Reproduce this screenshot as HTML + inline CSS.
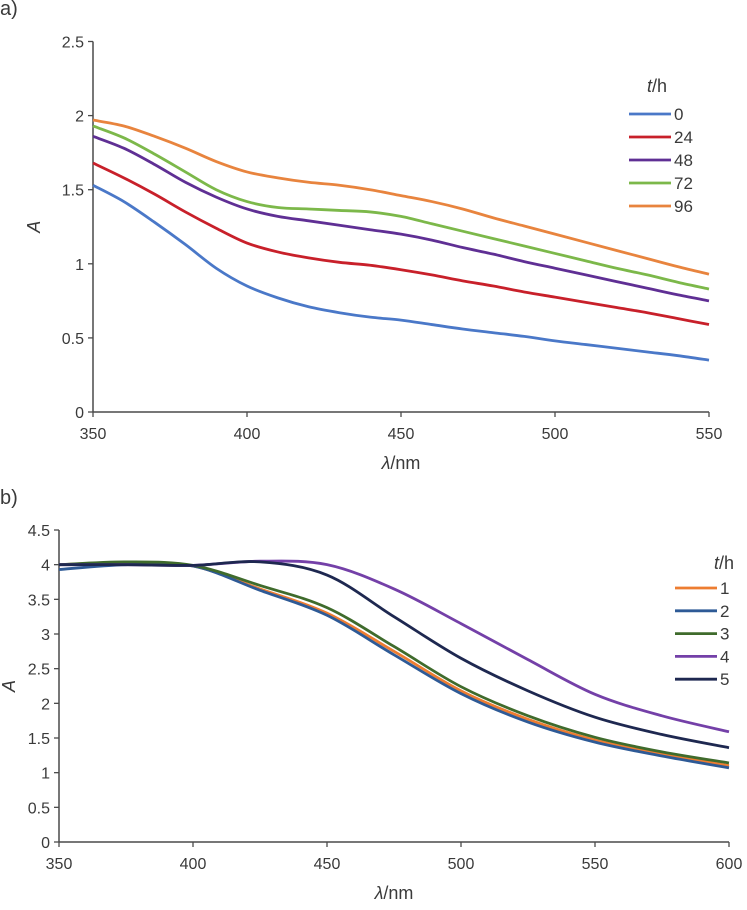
<!DOCTYPE html>
<html><head><meta charset="utf-8"><style>
body{margin:0;background:#fff;}
svg{display:block;font-family:"Liberation Sans",sans-serif;}
text{fill:#3a3a3a;}
</style></head><body>
<svg id="s" width="747" height="910">
<text x="0" y="15" font-size="20">a)</text>
<text x="0" y="504" font-size="20">b)</text>
</svg>
<script>
// Panel a
const aX = [350,360,370,380,390,400,410,420,430,440,450,460,470,480,490,500,510,520,530,540,550];
const aNames = ["0","24","48","72","96"];
const aS0 = [1.53,1.42,1.28,1.13,0.97,0.85,0.77,0.71,0.67,0.64,0.62,0.59,0.56,0.535,0.51,0.48,0.455,0.43,0.405,0.38,0.35];
const aS24 = [1.68,1.58,1.47,1.35,1.24,1.14,1.08,1.04,1.01,0.99,0.96,0.925,0.885,0.85,0.81,0.775,0.74,0.705,0.67,0.63,0.59];
const aS48 = [1.86,1.78,1.67,1.55,1.45,1.37,1.32,1.29,1.26,1.23,1.20,1.16,1.11,1.065,1.015,0.97,0.925,0.88,0.835,0.79,0.75];
const aS72 = [1.93,1.85,1.74,1.62,1.50,1.42,1.38,1.37,1.36,1.35,1.32,1.27,1.22,1.17,1.12,1.07,1.02,0.97,0.925,0.875,0.83];
const aS96 = [1.97,1.93,1.86,1.78,1.69,1.62,1.58,1.55,1.53,1.50,1.46,1.42,1.37,1.31,1.255,1.20,1.145,1.09,1.035,0.98,0.93];
const aXTicks = [350,400,450,500,550];
const aYTicks = ["0","0.5","1","1.5","2","2.5"];
// Panel b
const bX = [350,375,400,425,450,475,500,525,550,575,600];
const bNames = ["1","2","3","4","5"];
const bS1 = [4.00,4.03,3.98,3.65,3.30,2.75,2.18,1.77,1.47,1.27,1.10];
const bS2 = [3.93,4.00,3.98,3.63,3.27,2.70,2.14,1.73,1.44,1.24,1.07];
const bS3 = [4.00,4.04,3.99,3.70,3.38,2.82,2.24,1.82,1.51,1.30,1.14];
const bS4 = [4.00,4.00,3.99,4.05,4.00,3.65,3.15,2.63,2.13,1.82,1.59];
const bS5 = [4.00,4.00,3.99,4.04,3.85,3.25,2.65,2.18,1.80,1.55,1.36];
const bXTicks = [350,400,450,500,550,600];
const bYTicks = ["0","0.5","1","1.5","2","2.5","3","3.5","4","4.5"];

const NS="http://www.w3.org/2000/svg";
const svg=document.getElementById('s');
function mk(tag,attrs,parent){const e=document.createElementNS(NS,tag);for(const k in attrs)e.setAttribute(k,attrs[k]);(parent||svg).appendChild(e);return e;}
function smooth(pts){let d="M"+pts[0][0]+","+pts[0][1];for(let i=0;i<pts.length-1;i++){const p0=pts[Math.max(0,i-1)],p1=pts[i],p2=pts[i+1],p3=pts[Math.min(pts.length-1,i+2)];
d+=" C"+(p1[0]+(p2[0]-p0[0])/6)+","+(p1[1]+(p2[1]-p0[1])/6)+" "+(p2[0]-(p3[0]-p1[0])/6)+","+(p2[1]-(p3[1]-p1[1])/6)+" "+p2[0]+","+p2[1];}return d;}

function panel(cfg){
  const g=mk('g',{});
  
  
  const sx=v=>cfg.x0+(v-cfg.xmin)/(cfg.xmax-cfg.xmin)*(cfg.x1-cfg.x0);
  const sy=v=>cfg.y0-(v-0)/(cfg.ymax)*(cfg.y0-cfg.y1);
  const ax=mk('line',{x1:cfg.x0,y1:cfg.y0,x2:cfg.x1,y2:cfg.y0,stroke:'#4a4a4a','stroke-width':1.5},g);
  
  
  const ay=mk('line',{x1:cfg.x0,y1:cfg.y0,x2:cfg.x0,y2:cfg.y1,stroke:'#4a4a4a','stroke-width':1.5},g);
  
  
  cfg.xt.forEach(v=>{const x=sx(v);mk('line',{x1:x,y1:cfg.y0,x2:x,y2:cfg.y0+5,stroke:'#4a4a4a','stroke-width':1.3},g);
    const t=mk('text',{x:x,y:cfg.y0+27,'font-size':16,'text-anchor':'middle'},g);t.textContent=v;
    
    });
  cfg.yt.forEach(s=>{const y=sy(parseFloat(s));mk('line',{x1:cfg.x0-5,y1:y,x2:cfg.x0,y2:y,stroke:'#4a4a4a','stroke-width':1.3},g);
    const t=mk('text',{x:cfg.x0-9,y:y+6,'font-size':16,'text-anchor':'end'},g);t.textContent=s;
    
    });
  const xl=mk('text',{x:(cfg.x0+cfg.x1)/2,y:cfg.y0+57,'font-size':18,'text-anchor':'middle'},g);
  xl.innerHTML='<tspan font-style="italic">λ</tspan>/nm';
  
  
  const yl=mk('text',{x:0,y:0,'font-size':18,'font-style':'italic','text-anchor':'middle',transform:`translate(${cfg.ylx},${(cfg.y0+cfg.y1)/2}) rotate(-90)`},g);
  yl.textContent='A';
  
  
  cfg.series.forEach((s,i)=>{
    const p=mk('path',{d:smooth(cfg.xs.map((x,j)=>[sx(x),sy(s[j])])),fill:'none',stroke:cfg.colors[i],'stroke-width':2.8},g);
    
    
    const ly=cfg.ly0+i*cfg.ld;
    const l=mk('line',{x1:cfg.lx,y1:ly,x2:cfg.lx+42,y2:ly,stroke:cfg.colors[i],'stroke-width':2.8},g);
    
    
    const t=mk('text',{x:cfg.lx+45,y:ly+6,'font-size':17},g);t.textContent=cfg.names[i];
    
    
  });
  const lt=mk('text',{x:cfg.ltx,y:cfg.lty,'font-size':18},g);
  lt.innerHTML='<tspan font-style="italic">t</tspan>/h';
  
  
}
panel({name:'chart-a',x0:93,x1:709,y0:412,y1:41.5,xmin:350,xmax:550,ymax:2.5,xs:aX,xt:aXTicks,yt:aYTicks,
  series:[aS0,aS24,aS48,aS72,aS96],names:aNames,colors:['#4A78C8','#C8202A','#5F2F94','#7CB84A','#E8843E'],
  lx:629,ly0:114,ld:23,ltx:647,lty:92,ylx:40});
panel({name:'chart-b',x0:59,x1:729,y0:842,y1:530,xmin:350,xmax:600,ymax:4.5,xs:bX,xt:bXTicks,yt:bYTicks,
  series:[bS1,bS2,bS3,bS4,bS5],names:bNames,colors:['#ED7D31','#2E5A96','#3F6B2C','#7440A8','#1E2850'],
  lx:675,ly0:588,ld:22.8,ltx:714,lty:569,ylx:15});
</script>
</body></html>
